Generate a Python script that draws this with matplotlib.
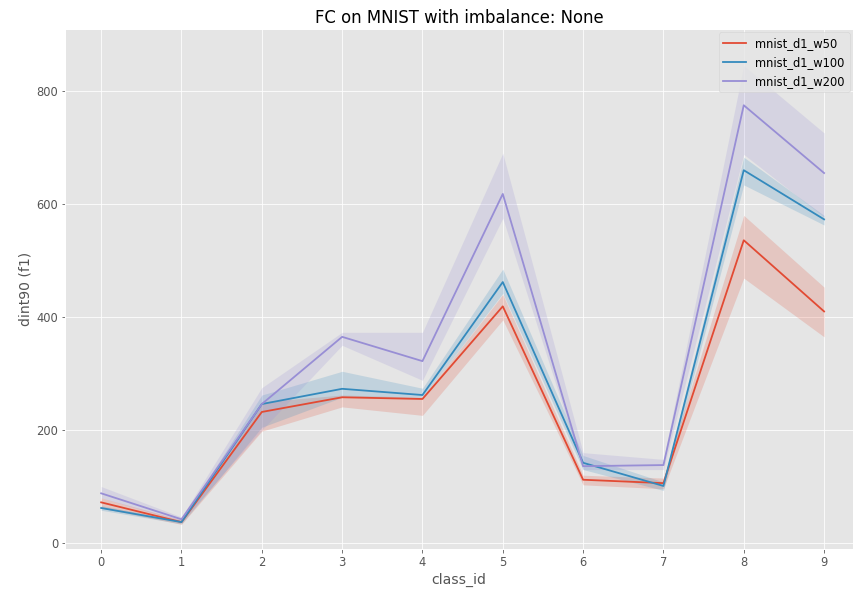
import numpy as np
import matplotlib
matplotlib.use('Agg')
import matplotlib.pyplot as plt

plt.style.use('ggplot')

# mean dint90 per class and confidence band for each model width
class_ids = [0, 1, 2, 3, 4, 5, 6, 7, 8, 9]

w50_mean = [72, 37, 232, 258, 255, 419, 112, 106, 536, 410]
w50_low = [62, 33, 198, 241, 226, 395, 103, 96, 469, 365]
w50_high = [80, 41, 250, 262, 258, 440, 120, 115, 580, 453]

w100_mean = [62, 37, 246, 273, 262, 462, 142, 101, 660, 573]
w100_low = [58, 34, 205, 258, 258, 442, 130, 93, 634, 563]
w100_high = [66, 40, 262, 304, 274, 485, 155, 108, 683, 580]

w200_mean = [88, 42, 246, 365, 322, 618, 136, 138, 775, 655]
w200_low = [80, 38, 200, 350, 288, 575, 130, 130, 688, 577]
w200_high = [100, 46, 275, 373, 373, 690, 160, 148, 845, 726]

series = [
    ('mnist_d1_w50', w50_mean, w50_low, w50_high, '#E24A33'),
    ('mnist_d1_w100', w100_mean, w100_low, w100_high, '#348ABD'),
    ('mnist_d1_w200', w200_mean, w200_low, w200_high, '#988ED5'),
]

fig = plt.figure(figsize=(854 / 72, 595 / 72), dpi=72)
ax = fig.add_axes([65 / 854, 46 / 595, 788 / 854, 520 / 595])

for name, mean, low, high, color in series:
    ax.plot(class_ids, mean, color=color, lw=1.8, label=name)
    ax.fill_between(class_ids, low, high, color=color, alpha=0.2, lw=0)

ax.set_xticks(class_ids)
ax.set_xlim(-0.45, 9.36)
ax.set_ylim(-10.6, 910)
ax.tick_params(labelsize=11.5)
ax.set_xlabel('class_id', fontsize=14)
ax.set_ylabel('dint90 (f1)', fontsize=14)
ax.set_title('FC on MNIST with imbalance: None', color='black', fontsize=16.5)
ax.legend(loc='upper right', fontsize=11.5, borderaxespad=0.3)

fig.savefig('out.png', dpi=72)
